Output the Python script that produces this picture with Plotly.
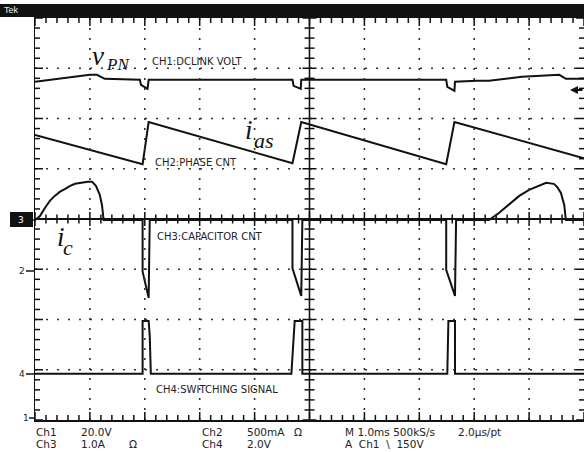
import plotly.graph_objects as go

# ---------------- data (time in ms = screen divisions, 1.0 ms/div; amplitude in screen divisions from bottom) -------------
t_vpn = [0, 0.45, 1.0, 1.13, 1.27, 1.91, 1.93, 2.05, 2.07, 4.69, 4.71, 4.84, 4.85,
         7.49, 7.51, 7.64, 7.65, 8.04, 8.27, 8.87, 9.18, 9.55, 9.67, 10]
vpn = [6.73, 6.79, 6.87, 6.87, 6.79, 6.77, 6.67, 6.59, 6.77, 6.77, 6.65, 6.59, 6.77,
       6.77, 6.63, 6.55, 6.73, 6.75, 6.75, 6.83, 6.85, 6.87, 6.79, 6.79]

t_ias = [0, 1.96, 2.07, 4.69, 4.85, 7.49, 7.64, 10]
ias = [5.67, 5.09, 5.93, 5.11, 5.93, 5.09, 5.93, 5.21]

t_ic = [0, 0.09, 0.18, 0.27, 0.36, 0.45, 0.55, 0.64, 0.73, 0.82, 0.96, 1.04, 1.11, 1.18, 1.22, 1.25,
        1.96, 1.96, 2.07, 2.09, 4.69, 4.69, 4.85, 4.87, 7.49, 7.49, 7.65, 7.67,
        8.27, 8.45, 8.64, 8.82, 9.00, 9.18, 9.31, 9.45, 9.51, 9.58, 9.64, 9.67, 10]
ic = [3.98, 4.06, 4.22, 4.36, 4.46, 4.54, 4.60, 4.66, 4.70, 4.72, 4.74, 4.74, 4.66, 4.48, 4.28, 3.98,
      3.98, 2.95, 2.43, 3.98, 3.98, 3.02, 2.47, 3.98, 3.98, 2.99, 2.47, 3.98,
      3.98, 4.12, 4.30, 4.46, 4.58, 4.66, 4.72, 4.70, 4.64, 4.52, 4.28, 3.98, 3.98]

t_sw = [0, 1.96, 1.96, 2.07, 2.09, 2.11, 4.67, 4.71, 4.73, 4.87, 4.87, 7.51, 7.53, 7.65, 7.65, 10]
sw = [0.92, 0.92, 1.97, 1.97, 1.67, 0.92, 0.92, 1.80, 1.97, 1.97, 0.92, 0.92, 1.97, 1.97, 0.92, 0.92]

channel_labels = ["CH1:DCLINK VOLT", "CH2:PHASE CNT", "CH3:CAPACITOR CNT", "CH4:SWITCHING SIGNAL"]
scale_rows = [["Ch1", "20.0V", ""], ["Ch3", "1.0A", "Ω"], ["Ch2", "500mA", "Ω"], ["Ch4", "2.0V", ""]]
timebase = ["M 1.0ms 500kS/s", "2.0µs/pt", "A  Ch1  \\  150V"]

# ---------------- figure -------------
W, H = 584, 452
ML, MR, MT, MB = 35, 0, 18, 32
PW, PH = W - ML - MR, H - MT - MB
XDIV, YDIV = 10, 8
dxp = XDIV / PW   # div per px
dyp = YDIV / PH


def px_x(px):
    return (px - ML) / PW


def px_y(py):
    return (H - MB - py) / PH


fig = go.Figure()
for t, v in [(t_vpn, vpn), (t_ias, ias), (t_ic, ic), (t_sw, sw)]:
    fig.add_trace(go.Scatter(x=t, y=v, mode="lines", line=dict(color="#111", width=2),
                             hoverinfo="skip", showlegend=False))

shapes = []
tick_line = dict(color="#111", width=1.5)


def seg(x0, y0, x1, y1):
    shapes.append(dict(type="line", xref="x", yref="y", x0=x0, y0=y0, x1=x1, y1=y1, line=tick_line))


# dotted graticule
for i in range(1, XDIV):
    if i != 5:
        shapes.append(dict(type="line", xref="x", yref="y", x0=i, x1=i, y0=YDIV, y1=0,
                           line=dict(color="#333", width=1.6, dash="2px,8px")))
for j in range(1, YDIV):
    if j != 4:
        shapes.append(dict(type="line", xref="x", yref="y", x0=0, x1=XDIV, y0=j, y1=j,
                           line=dict(color="#333", width=1.6, dash="2px,9px")))

shapes += [
    dict(type="line", xref="x", yref="y", x0=0, x1=XDIV, y0=4, y1=4, line=dict(color="#111", width=2)),
    dict(type="line", xref="x", yref="y", x0=5, x1=5, y0=0, y1=YDIV, line=dict(color="#111", width=1.6)),
]

# tick marks
for i in range(51):
    x = i * 0.2
    L = 8 if i % 5 == 0 else 5
    seg(x, YDIV, x, YDIV - L * dyp)
    seg(x, 0, x, L * dyp)
    Lc = 7 if i % 5 == 0 else 4.5
    seg(x, 4 - Lc * dyp, x, 4 + Lc * dyp)
for j in range(41):
    y = j * 0.2
    L = 8 if j % 5 == 0 else 5
    seg(0, y, L * dxp, y)
    seg(XDIV, y, XDIV - L * dxp, y)
    Lc = 7 if j % 5 == 0 else 5
    seg(5 - Lc * dxp, y, 5 + Lc * dxp, y)

shapes += [
    # Tek header bar
    dict(type="rect", xref="paper", yref="paper", x0=px_x(0), x1=px_x(W + 2), y0=px_y(17), y1=px_y(4),
         fillcolor="#111", line=dict(width=0)),
    # CH3 marker box
    dict(type="rect", xref="paper", yref="paper", x0=px_x(10), x1=px_x(33), y0=px_y(227), y1=px_y(212),
         fillcolor="#111", line=dict(width=0)),
]
for py, x0 in [(220, 27), (271, 26), (374, 26), (418, 29)]:
    shapes.append(dict(type="line", xref="paper", yref="paper", x0=px_x(x0), x1=px_x(35),
                       y0=px_y(py), y1=px_y(py), line=dict(color="#111", width=1.5)))

ann = []


def txt(s, px, py, size=10, color="#222", family="DejaVu Sans", xanchor="left"):
    ann.append(dict(text=s, x=px_x(px), y=px_y(py), xref="paper", yref="paper", showarrow=False,
                    xanchor=xanchor, yanchor="middle", font=dict(size=size, color=color, family=family)))


serif = "Liberation Serif"
txt("Tek", 2, 10, size=9, color="#eee", family="Liberation Sans")
txt("<i>v</i>", 90, 56, size=27, color="#111", family=serif)
txt("<i>PN</i>", 104, 64, size=17, color="#111", family=serif)
txt("<i>i</i>", 243, 130, size=27, color="#111", family=serif)
txt("<i>as</i>", 252, 140, size=22, color="#111", family=serif)
txt("<i>i</i>", 55, 237, size=27, color="#111", family=serif)
txt("<i>c</i>", 61, 248, size=22, color="#111", family=serif)

txt(channel_labels[0], 150, 62, size=10)
txt(channel_labels[1], 153, 162, size=10)
txt(channel_labels[2], 155, 236, size=10)
txt(channel_labels[3], 154, 389, size=10)

txt("3", 16, 220, size=9, color="#fff")
txt("2", 17, 271, size=9)
txt("4", 17, 374, size=9)
txt("1", 21, 418, size=9)

rows_y = [432, 444]
for k, (name, val, ohm) in enumerate(scale_rows):
    col = k // 2
    py = rows_y[k % 2]
    bx = 34 if col == 0 else 200
    txt(name, bx, py, size=10.5)
    txt(val, bx + 45, py, size=10.5)
    if ohm:
        txt(ohm, bx + (93 if col == 0 else 92), py, size=10.5)
txt(timebase[0], 343, 432, size=10.5)
txt(timebase[1], 456, 432, size=10.5)
txt(timebase[2], 343, 444, size=10.5)

ann.append(dict(x=px_x(570), y=px_y(90), xref="paper", yref="paper", text="", showarrow=True,
                ax=14, ay=0, arrowhead=2, arrowsize=0.8, arrowwidth=2, arrowcolor="#111"))

axis_common = dict(showticklabels=False, ticks="", zeroline=False, showgrid=False, fixedrange=True)
fig.update_layout(
    width=W, height=H, autosize=False,
    margin=dict(l=ML, r=MR, t=MT, b=MB, pad=0),
    paper_bgcolor="white", plot_bgcolor="white",
    xaxis=dict(range=[0, XDIV], showline=True, mirror=True, linecolor="#111", linewidth=1.5, **axis_common),
    yaxis=dict(range=[0, YDIV], showline=True, mirror=False, linecolor="#111", linewidth=1.5, **axis_common),
    shapes=shapes, annotations=ann, showlegend=False,
)
fig.write_html("out.html", config={"displayModeBar": False, "staticPlot": True},
               post_script="document.body.style.margin='0px';document.body.style.overflow='hidden';")
